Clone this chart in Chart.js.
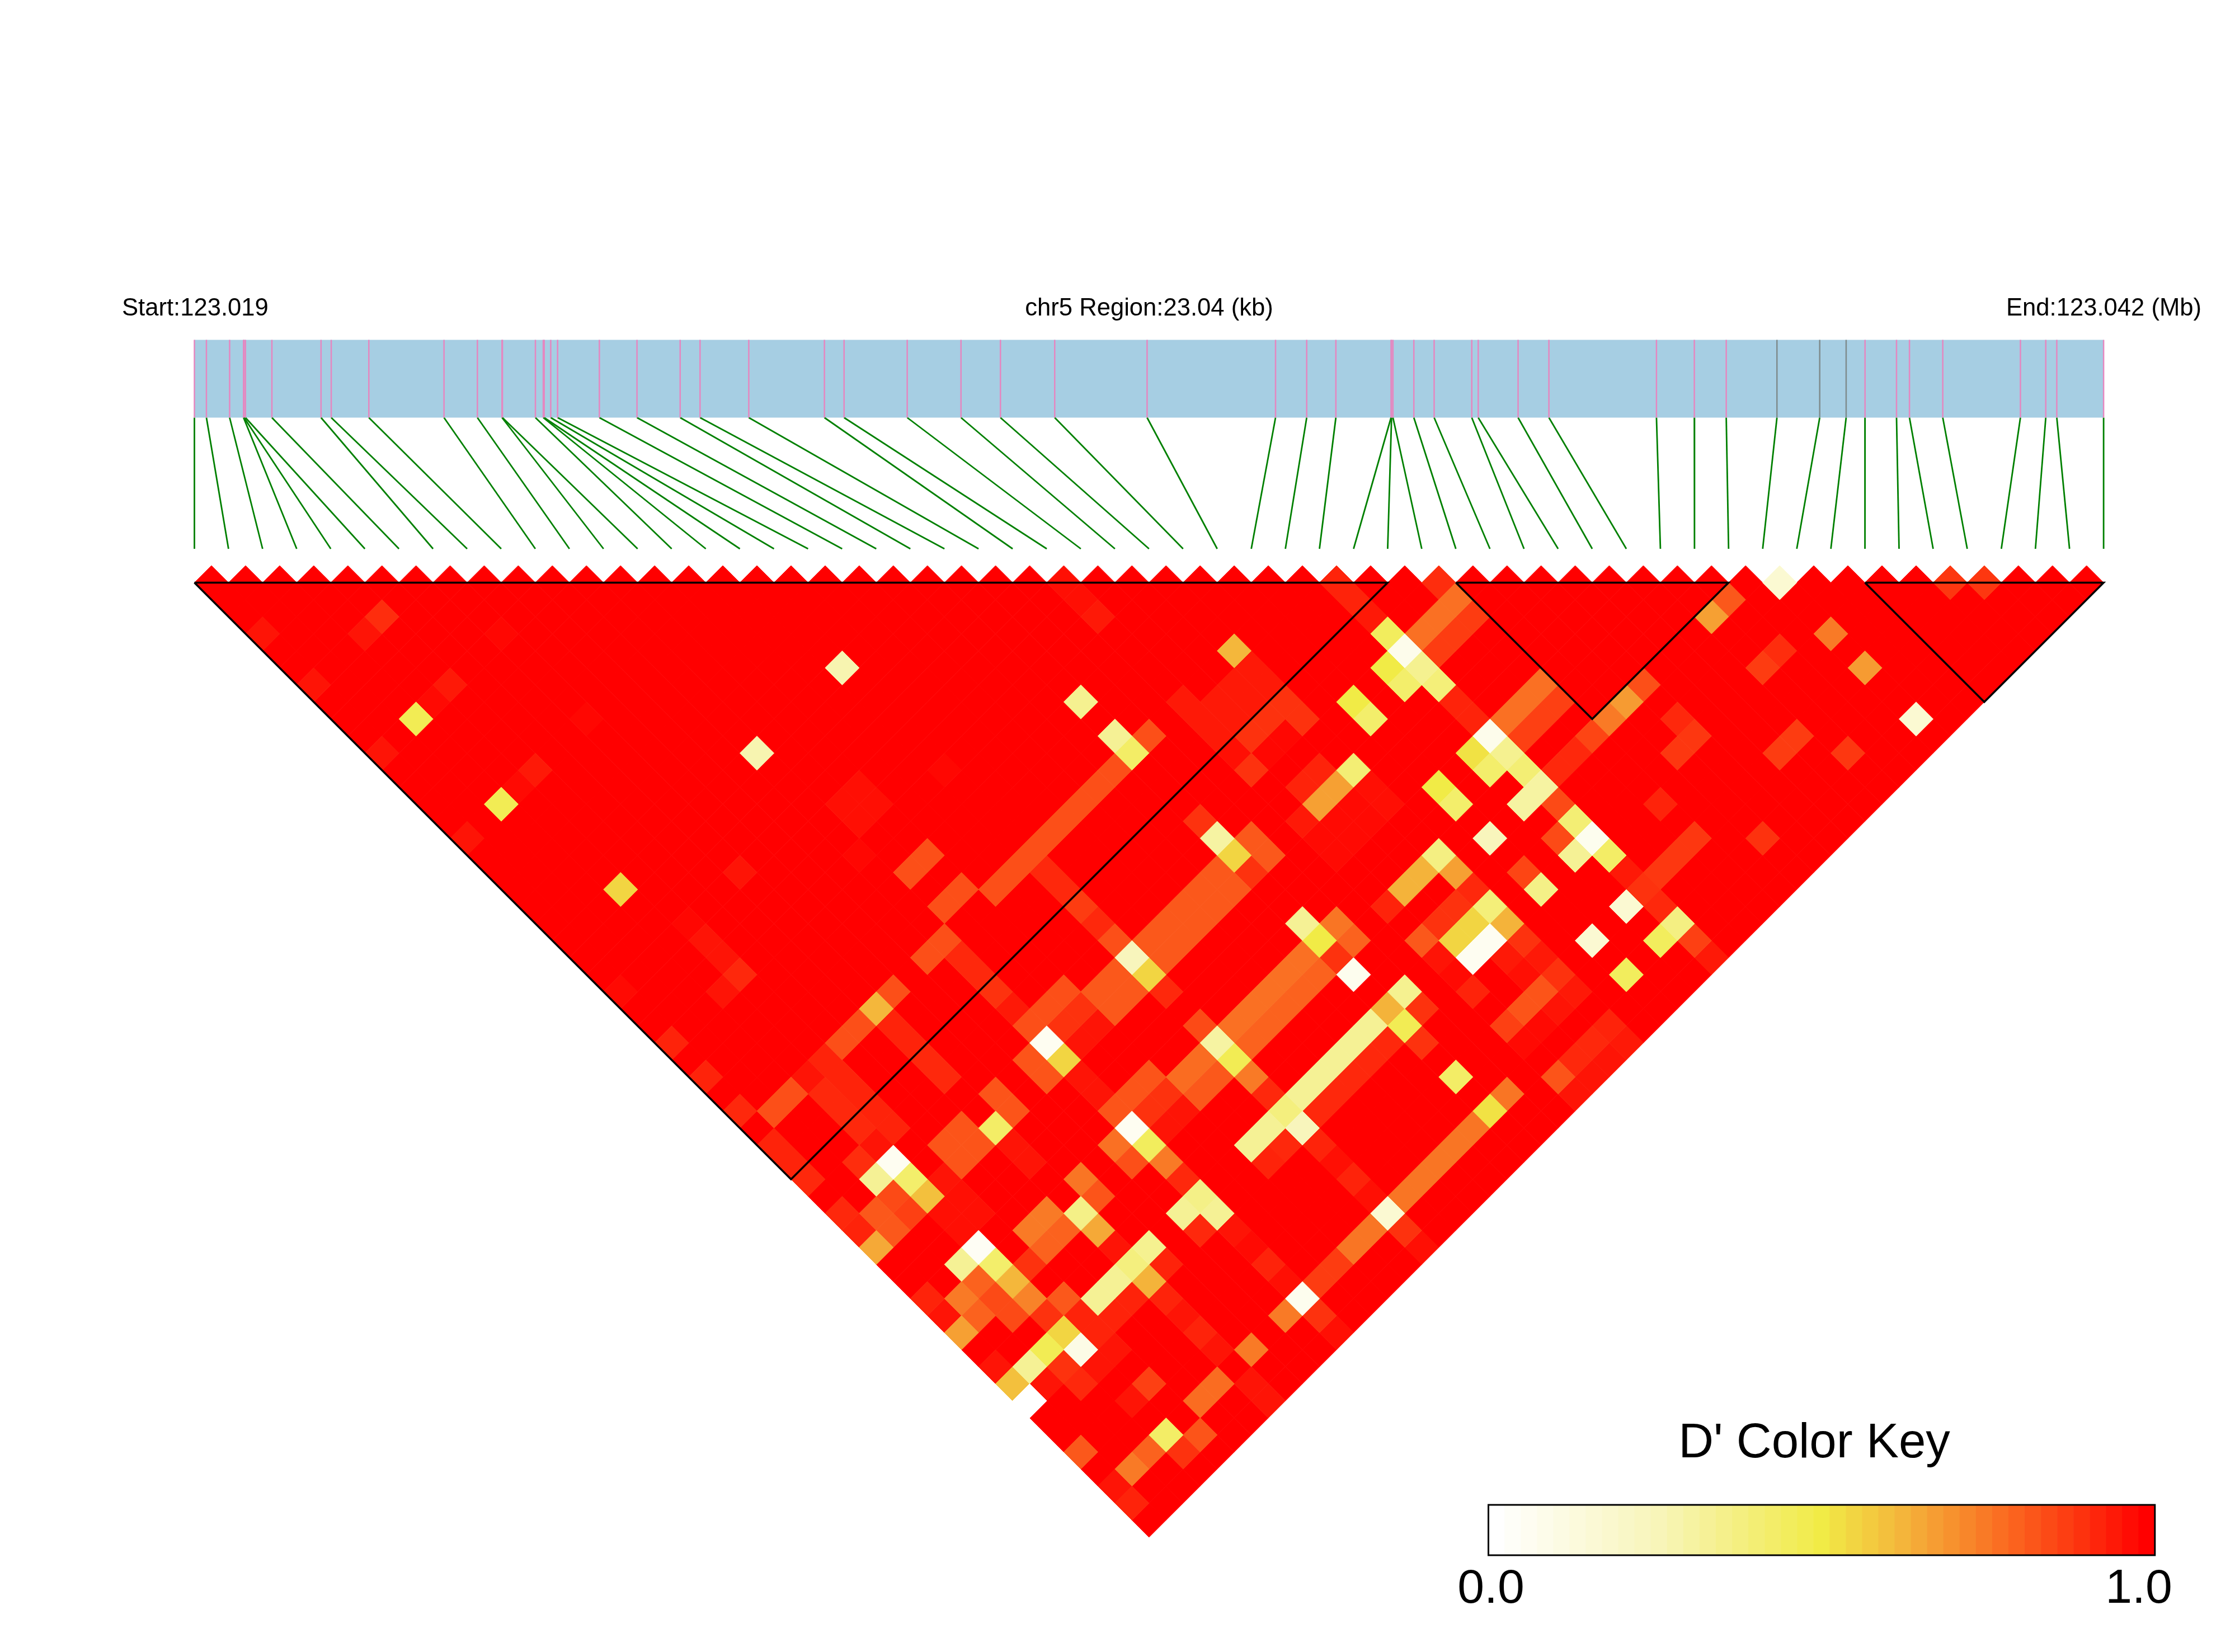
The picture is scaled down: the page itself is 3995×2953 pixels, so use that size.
<!DOCTYPE html>
<html>
<head>
<meta charset="utf-8">
<title>LD heatmap chr5</title>
<script src="https://cdn.jsdelivr.net/npm/chart.js@4"></script>
<style>
  html, body { margin: 0; padding: 0; background: #fff; }
  #wrap { position: relative; width: 3995px; height: 2953px; overflow: hidden; }
  #chart { position: absolute; left: 0; top: 0; }
  #key { position: absolute; left: 2560px; top: 2480px; }
</style>
</head>
<body>
<div id="wrap">
  <canvas id="chart" width="3995" height="2953"></canvas>
  <canvas id="key" width="1400" height="440"></canvas>
</div>
<script>
// SNP positions along the region, kb from the start
const snpPosKb = [
    0, 0.145, 0.425, 0.593, 0.599, 0.616, 0.935, 1.528, 1.651, 2.105,
    3.012, 3.415, 3.712, 3.717, 4.115, 4.21, 4.221, 4.3, 4.383, 4.887,
    5.341, 5.862, 6.102, 6.69, 7.603, 7.84, 8.602, 9.251, 9.727, 10.382,
    11.497, 13.047, 13.423, 13.775, 14.441, 14.447, 14.464, 14.716, 14.961, 15.415,
    15.493, 15.974, 16.346, 17.644, 18.101, 18.486, 19.098, 19.614, 19.933, 20.161,
    20.541, 20.697, 21.099, 22.036, 22.342, 22.475, 23.04,
];
const regionKb = 23.04;
// these three marks are grey, the others pink
const greySnps = [46, 47, 48];
// LD blocks outlined in black: first and last SNP
const blocks = [[0, 35], [37, 45], [49, 56]];

// D' for the SNP pairs below 1.0, every other pair is 1.0: [snp a, snp b, D']
const lowPairs = [
    [0,4,.96],[4,7,.91],[3,7,.96],[7,11,.985],[16,22,.27],[0,7,.96],[4,11,.95],[3,11,.98],[2,11,.47],[7,16,.985],
    [0,11,.96],[11,22,.27],[4,16,.95],[3,16,.98],[2,16,.47],[16,28,.985],[13,26,.97],[12,26,.97],[13,27,.97],[12,27,.97],
    [11,28,.985],[0,16,.96],[13,30,.84],[12,30,.84],[7,25,.96],[3,22,.55],[13,32,.84],[12,32,.84],[11,33,.84],[10,33,.84],
    [11,34,.92],[11,35,.92],[4,25,.985],[4,26,.96],[4,27,.96],[4,28,.92],[3,28,.96],[0,25,.98],[8,33,.84],[7,33,.62],
    [6,33,.84],[5,33,.84],[4,33,.93],[4,34,.93],[4,35,.93],[4,36,.93],[4,37,.93],[0,28,.93],[0,30,.93],
    [3,34,.92],[3,35,.92],[3,36,.92],[3,37,.96],[3,33,.96],[2,33,.84],[1,33,.84],[0,32,.92],[0,34,.93],[0,35,.93],
    [0,36,.92],[0,38,.92],[0,39,.93],[0,40,.65],[0,43,.93],[0,44,.96],[0,45,.67],[0,47,.96],[0,48,.6],[0,49,0],
    [0,52,.82],[0,54,.96],[0,55,.93],[2,37,.91],[3,38,.05],[2,38,.33],[3,39,.42],[3,40,.6],[2,39,.85],[2,40,.87],
    [1,39,.82],[1,40,.82],[4,40,.96],[4,41,.97],[3,41,.97],[4,42,.97],[3,42,.97],[7,34,.93],[7,35,.93],[7,36,.92],[7,37,.92],
    [11,36,.9],[11,37,.95],[11,38,.84],[12,38,.84],[13,38,.84],[11,39,.05],[11,40,.55],[10,39,.83],[10,40,.83],[12,39,.9],
    [13,39,.9],[13,40,.96],[12,40,.96],[14,39,.82],[14,40,.82],[15,40,.82],[15,39,.82],[11,41,.96],[11,42,.96],[11,43,.83],
    [12,43,.83],[13,43,.83],[11,44,.05],[11,45,.45],[10,44,.77],[10,45,.84],[11,46,.75],[11,47,.92],[12,44,.9],[13,44,.9],
    [13,45,.96],[12,45,.96],[14,44,.78],[15,44,.78],[16,44,.3],[16,45,.47],[16,46,.75],[16,47,.92],[16,43,.85],
    [17,44,.77],[18,44,.77],[19,44,.77],[20,44,.77],[21,44,.77],[17,45,.8],[18,45,.8],[19,45,.8],[20,45,.8],[21,45,.8],
    [14,45,.82],[15,45,.82],[11,48,.36],[10,48,.33],[11,49,.33],[10,49,.92],[11,50,.96],[11,51,.98],[11,52,.93],[14,48,.33],
    [15,48,.33],[14,49,.93],[8,39,.83],[8,40,.83],[7,40,.43],[6,39,.83],[5,39,.83],[6,40,.83],[5,40,.83],[7,41,.96],[7,42,.96],
    [8,44,.76],[8,45,.83],[7,45,.36],[7,46,.65],[5,44,.75],[6,44,.75],[5,45,.8],[6,45,.8],[4,45,.9],[3,43,.04],[2,43,.33],
    [3,44,.42],[3,45,.62],[3,46,.73],[2,44,.8],[2,45,.85],[2,46,.85],[1,44,.75],[1,45,.8],[4,47,.82],[3,47,.9],[4,48,.93],
    [5,48,.33],[6,48,.33],[7,48,.38],[8,48,.34],[7,49,.63],[8,49,.93],[7,47,.96],[7,50,.93],[7,51,.96],[7,52,.93],[7,53,.96],
    [5,49,.93],[6,49,.93],[4,49,.93],[4,50,.96],[3,50,.96],[3,48,.55],[3,49,.09],[2,48,.47],[1,48,.33],[2,49,.9],[2,50,.92],
    [1,49,.96],[4,52,.87],[3,52,.96],[3,54,.43],[2,54,.8],[1,54,.75],[3,55,.9],[4,55,.83],[5,54,.78],[6,54,.78],[8,54,.75],
    [7,55,.96],[7,56,.96],
    [22,43,.33],[22,44,.5],[23,44,.76],[23,45,.8],[22,45,.9],[22,46,.06],[23,48,.34],[22,48,.63],[22,49,.47],[23,49,.9],[22,50,.9],
    [17,48,.33],[18,48,.33],[19,48,.33],[20,48,.33],[21,48,.33],[16,48,.38],[21,49,.92],[20,49,.92],[19,49,.92],[18,49,.92],
    [17,49,.92],[15,49,.92],[16,49,.24],[16,50,.93],[16,51,.97],[16,52,.93],[16,53,.97],[16,54,.16],[15,54,.76],[14,54,.76],
    [13,54,.88],[12,54,.88],[11,54,.06],[10,54,.75],[11,55,.9],[11,56,.97],[16,55,.9],[16,56,.97],[11,53,.97],[22,52,.43],
    [22,54,.52],[23,54,.76],[17,54,.76],[18,54,.76],[19,54,.76],[20,54,.76],[21,54,.76],[32,52,.16],[30,52,.16],[30,54,.45],
    [32,54,.45],[33,54,.37],[33,55,.87],[33,56,.95],[33,53,.92],[25,45,.93],[26,45,.63],[25,47,.82],[26,47,.9],[27,47,.9],
    [26,48,.55],[27,48,.55],[28,48,.39],[26,49,.05],[27,49,.05],[28,49,.63],[28,50,.9],[28,51,.95],[28,52,.9],[28,53,.95],
    [27,50,.95],[27,51,.97],[25,48,.96],[25,49,.98],[25,50,.93],[27,52,.83],[26,52,.83],[25,52,.87],[25,53,.98],[26,53,.98],
    [27,53,.96],[28,55,.93],[28,56,.95],[27,55,.92],[26,55,.92],[25,55,.83],[25,56,.96],[26,56,.96],[27,56,.96],
    [25,26,.97],[33,34,.93],[36,37,.91],[25,27,.97],[25,28,.95],[33,35,.93],[33,36,.95],[33,37,.45],[33,38,.07],[33,39,.34],
    [33,40,.39],[32,38,.5],[32,39,.42],[34,38,.77],[35,38,.77],[36,38,.77],[34,39,.88],[35,39,.88],[36,39,.88],[33,41,.93],[33,42,.93],
    [28,33,.62],[28,34,.95],[28,35,.95],[27,34,.95],[26,34,.95],[25,33,.95],[25,34,.95],[25,35,.95],[27,35,.95],[26,35,.95],
    [28,36,.9],[28,37,.9],[27,36,.9],[26,36,.9],[25,36,.97],[25,37,.9],[26,37,.985],[27,37,.985],[22,30,.34],[22,32,.33],
    [22,33,.43],[23,33,.84],[14,33,.84],[15,33,.84],[16,33,.84],[17,33,.84],[18,33,.84],[19,33,.84],[20,33,.84],[21,33,.84],
    [16,34,.92],[16,35,.92],[16,36,.88],[16,37,.92],[16,38,.84],[16,39,.24],[16,40,.55],[16,41,.92],
    [17,39,.82],[18,39,.82],[19,39,.82],[20,39,.82],[21,39,.82],[17,40,.82],[18,40,.82],[19,40,.82],[20,40,.82],[21,40,.82],
    [22,37,.9],[22,38,.3],[22,39,.55],[22,40,.9],[23,39,.82],[23,40,.82],[30,38,.5],[30,39,.42],[28,40,.4],[27,40,.67],
    [26,40,.67],[27,39,.93],[26,39,.93],[25,40,.95],[28,41,.97],[28,42,.97],[26,41,.98],[27,41,.98],[25,41,.98],[26,42,.98],
    [27,42,.98],[25,42,.98],[30,43,.5],[30,44,.42],[30,46,.24],[28,45,.37],[27,45,.63],[28,46,.67],[28,47,.92],[33,43,.07],
    [32,43,.52],[33,44,.34],[32,44,.42],
    [46,47,.16],[51,52,.89],[52,53,.89],[44,46,.82],[43,46,.67],[46,50,.75],[44,49,.91],[43,49,.88],[46,52,.68],[46,55,.16],
    [39,48,.92],[39,49,.89],[38,49,.89],[42,52,.88],[41,52,.88],[43,54,.89],[36,50,.93],[36,52,.89],[35,52,.89],[34,52,.89],
    [38,54,.9],[39,46,.84],[38,46,.68],[37,46,.75],[36,46,.86],[35,46,.92],[34,46,.92],[36,43,.77],[35,43,.77],[34,43,.77],
    [36,44,.87],[35,44,.87],[34,44,.87],[33,45,.4],[33,46,.3],[32,46,.3],[33,47,.85],[33,48,.4],[33,49,.06],[33,50,.43],
    [33,51,.95],[32,48,.85],[32,49,.33],[30,48,.86],[30,49,.36],[33,52,.9],
];

// levels of the colour key
const keyLevels = [
    0, 0.025, 0.05, 0.075, 0.1, 0.125, 0.15, 0.175, 0.2, 0.225,
    0.25, 0.275, 0.3, 0.325, 0.35, 0.375, 0.4, 0.425, 0.45, 0.475,
    0.5, 0.525, 0.55, 0.575, 0.6, 0.625, 0.65, 0.675, 0.7, 0.725,
    0.75, 0.775, 0.8, 0.825, 0.85, 0.875, 0.9, 0.925, 0.95, 0.975, 1,
];
const keyTitle = "D' Color Key";
const keyMin = "0.0";
const keyMax = "1.0";
const startLabel = "Start:123.019";
const regionLabel = "chr5 Region:23.04 (kb)";
const endLabel = "End:123.042 (Mb)";

// page geometry: one x/y unit is the spacing of two SNPs
const STEP = 60.94;
const LEFT = 347.5;
const TOP = 1041.5;
const GENE_TOP = (607.5 - TOP) / STEP;
const GENE_BOTTOM = (746.5 - TOP) / STEP;
const LINK_END = (981 - TOP) / STEP;
const FONT = '"Liberation Sans", Arial, sans-serif';

// colour ramp of the key, value -> rgb
const rampStops = [
    [0, [255, 255, 255]],
    [0.25, [248, 245, 185]],
    [0.375, [244, 239, 128]],
    [0.5, [241, 235, 70]],
    [0.625, [244, 181, 59]],
    [0.75, [249, 122, 38]],
    [0.875, [253, 62, 18]],
    [1, [255, 0, 0]],
];

function dprimeColor(v) {
    let k = 0;
    while (k < rampStops.length - 2 && v > rampStops[k + 1][0]) k++;
    const [v0, c0] = rampStops[k];
    const [v1, c1] = rampStops[k + 1];
    const t = (v - v0) / (v1 - v0);
    const c = c0.map((x, n) => Math.round(x + (c1[n] - x) * t));
    return `rgb(${c[0]},${c[1]},${c[2]})`;
}

// kb to the SNP index unit of the x scale
const kbToX = (kb) => kb * (snpPosKb.length - 1) / regionKb;

// one cell per SNP pair, light ones last so they sit on top
const lowLookup = new Map(lowPairs.map((p) => [p[0] + "-" + p[1], p[2]]));
const cells = [];
for (let a = 0; a < snpPosKb.length; a++) {
    for (let b = a + 1; b < snpPosKb.length; b++) {
        const key = a + "-" + b;
        cells.push({
            x: (a + b) / 2,
            y: (b - a - 1) / 2,
            v: lowLookup.has(key) ? lowLookup.get(key) : 1,
        });
    }
}
cells.sort((p, q) => q.v - p.v);

function lineSet(points, color, width) {
    return {
        type: "line",
        data: points,
        borderColor: color,
        borderWidth: width,
        borderCapStyle: "butt",
        pointRadius: 0,
        tension: 0,
    };
}

const datasets = [];

// black block outlines
blocks.forEach(([a, b]) => {
    datasets.push(lineSet([
        { x: a, y: 0 },
        { x: b, y: 0 },
        { x: (a + b) / 2, y: (b - a) / 2 },
        { x: a, y: 0 },
    ], "#000000", 3.5));
});

// the heatmap cells
datasets.push({
    type: "scatter",
    data: cells,
    pointStyle: "rectRot",
    pointRadius: STEP / 2,
    pointBorderWidth: 1,
    pointBackgroundColor: cells.map((c) => dprimeColor(c.v)),
    pointBorderColor: cells.map((c) => dprimeColor(c.v)),
});

// SNP marks on the region bar and the links down to the heatmap
snpPosKb.forEach((kb, n) => {
    const color = greySnps.includes(n) ? "#7f8c8d" : "#e587c0";
    datasets.push(lineSet([{ x: kbToX(kb), y: GENE_TOP }, { x: kbToX(kb), y: GENE_BOTTOM }], color, 2.5));
    datasets.push(lineSet([{ x: kbToX(kb), y: GENE_BOTTOM }, { x: n, y: LINK_END }], "#008000", 2.8));
});

// region bar, last so it is painted first
datasets.push(lineSet([
    { x: 0, y: (GENE_TOP + GENE_BOTTOM) / 2 },
    { x: snpPosKb.length - 1, y: (GENE_TOP + GENE_BOTTOM) / 2 },
], "#a6cee3", 139));

// labels over the region bar
const headerText = {
    id: "headerText",
    afterDraw(chart) {
        const ctx = chart.ctx;
        ctx.save();
        ctx.fillStyle = "#000";
        ctx.font = "43.6px " + FONT;
        ctx.textBaseline = "alphabetic";
        ctx.textAlign = "left";
        ctx.fillText(startLabel, 218, 564);
        ctx.textAlign = "center";
        ctx.fillText(regionLabel, 2054, 564);
        ctx.textAlign = "right";
        ctx.fillText(endLabel, 3935, 564);
        ctx.restore();
    },
};

new Chart(document.getElementById("chart"), {
    type: "scatter",
    data: { datasets },
    plugins: [headerText],
    options: {
        responsive: false,
        animation: false,
        events: [],
        layout: { padding: 0, autoPadding: false },
        plugins: { legend: { display: false }, tooltip: { enabled: false } },
        scales: {
            x: { type: "linear", display: false, min: -LEFT / STEP, max: (3995 - LEFT) / STEP },
            y: { type: "linear", display: false, reverse: true, min: -TOP / STEP, max: (2953 - TOP) / STEP },
        },
    },
});

// frame and text of the colour key
const keyText = {
    id: "keyText",
    afterDraw(chart) {
        const ctx = chart.ctx;
        const area = chart.chartArea;
        ctx.save();
        ctx.strokeStyle = "#000";
        ctx.lineWidth = 3;
        ctx.strokeRect(area.left, area.top, area.right - area.left, area.bottom - area.top);
        ctx.fillStyle = "#000";
        ctx.textAlign = "center";
        ctx.textBaseline = "alphabetic";
        ctx.font = "87px " + FONT;
        ctx.fillText(keyTitle, 683, 125);
        ctx.font = "86px " + FONT;
        ctx.fillText(keyMin, 105, 385);
        ctx.fillText(keyMax, 1263, 385);
        ctx.restore();
    },
};

new Chart(document.getElementById("key"), {
    type: "bar",
    data: {
        labels: keyLevels,
        datasets: [{
            data: keyLevels.map(() => 1),
            backgroundColor: keyLevels.map(dprimeColor),
            barPercentage: 1,
            categoryPercentage: 1,
        }],
    },
    plugins: [keyText],
    options: {
        responsive: false,
        animation: false,
        events: [],
        layout: { padding: { left: 100.5, right: 108.2, top: 210, bottom: 140 } },
        plugins: { legend: { display: false }, tooltip: { enabled: false } },
        scales: {
            x: { display: false },
            y: { display: false, min: 0, max: 1 },
        },
    },
});
</script>
</body>
</html>
